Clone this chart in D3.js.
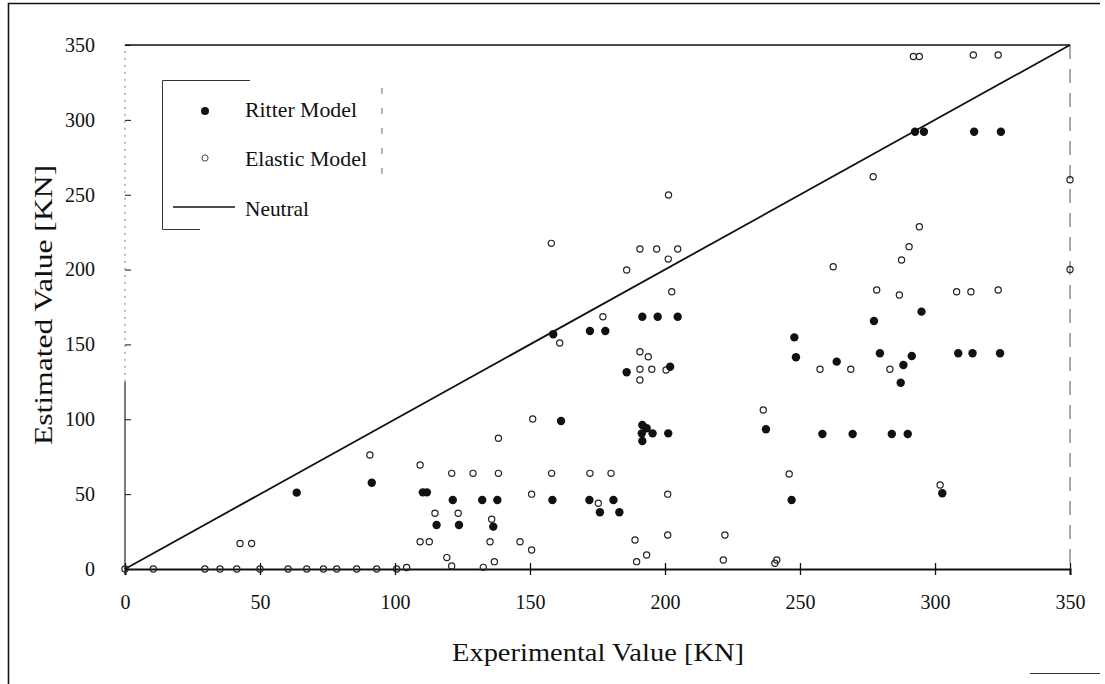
<!DOCTYPE html>
<html><head><meta charset="utf-8">
<script src="https://cdn.jsdelivr.net/npm/d3@7"></script>
<style>body{margin:0;background:#fff}svg{display:block}text{font-family:"Liberation Serif","DejaVu Serif",serif;fill:#111}</style>
</head><body><svg id="c" width="1105" height="684"></svg>
<script>
const xTicks=[0,50,100,150,200,250,300,350];
const yTicks=[0,50,100,150,200,250,300,350];
const legendLabels=["Ritter Model","Elastic Model","Neutral"];
const neutralLine=[[0,0],[350,350]];
const ritterX=[63.6,91.4,110.3,111.8,121.4,132.3,137.9,158.3,172,180.9,175.9,183.1,115.4,123.7,136.4,161.5,158.6,172.2,177.9,191.6,197.3,204.7,185.8,191.6,193.2,195.4,191.4,191.6,201.2,201.9,237.4,246.9,247.9,248.5,258.3,263.6,269.5,277.4,279.6,284,287.3,288.3,289.9,291.4,295,292.6,295.9,302.7,308.6,313.9,314.5,324.1,324.4];
const ritterY=[51,57.6,51.2,51.2,46.1,46.1,46.1,46.1,46.1,46.1,37.9,37.9,29.4,29.4,28.3,98.9,156.8,159,159,168.5,168.5,168.5,131.4,96.2,94,90.6,90.6,85.5,90.6,135.1,93.3,46.1,154.7,141.4,90.2,138.5,90.2,165.6,144.1,90.2,124.4,136.3,90.2,142.3,171.9,292.1,292.1,50.6,144.1,144.1,292.1,144.1,292.1];
const elasticX=[0,10.5,29.6,35.2,41.4,50,60.4,67.3,73.5,78.4,85.8,93.2,100.6,104.3,119.2,121,42.6,46.9,90.7,109.3,109.3,112.7,114.8,123.4,121,128.9,138.3,158,172.2,180,135.8,135.2,146.3,150.6,136.8,132.7,138.3,151,161,177,175.3,188.9,193.2,189.5,190.7,193.8,190.7,195.1,200.4,190.7,190.7,196.9,204.7,201.2,185.8,201.3,157.9,202.5,222.2,221.6,240.7,241.4,236.4,246,257.4,268.8,283.3,278.4,286.8,301.9,308,313.3,323.4,277.1,294.2,290.4,287.6,262.3,292,294.2,314.2,323.4,350,350,201,201,150.6];
const elasticY=[0,0,0,0,0,0,0,0,0,0,0,0,0,1,7.6,2,17,17,76.1,69.5,18.2,18.2,37.2,37.2,63.9,63.9,63.9,63.9,63.9,63.9,33.2,18.2,18.2,12.7,4.9,1.1,87.3,100.2,151,168.5,43.9,19.4,9.4,4.9,145.1,141.8,133.4,133.4,132.9,126.2,213.7,213.7,213.7,207,199.7,249.8,217.5,185.2,22.7,6,3.8,6,106.2,63.5,133.4,133.4,133.4,186.4,183,56.1,185.2,185.2,186.4,262,228.6,215.3,206.4,201.9,342.3,342.3,343.3,343.3,260,200,50,22.7,50];

const svg=d3.select("#c");
const x=d3.scaleLinear().domain([0,350]).range([125,1070]);
const y=d3.scaleLinear().domain([0,350]).range([569,45]);

// outer frame
svg.append("path").attr("d","M8.5,684 V3.5 H1100").attr("fill","none").attr("stroke","#111").attr("stroke-width",1.6);
svg.append("line").attr("x1",1030).attr("x2",1100).attr("y1",673.5).attr("y2",673.5).attr("stroke","#333").attr("stroke-width",1);

// plot box
svg.append("line").attr("x1",x(0)).attr("x2",x(350)).attr("y1",y(350)).attr("y2",y(350)).attr("stroke","#111").attr("stroke-width",1.4);
svg.append("line").attr("x1",x(350)).attr("x2",x(350)).attr("y1",y(350)).attr("y2",y(0)).attr("stroke","#555").attr("stroke-width",1).attr("stroke-dasharray","14,10");
svg.append("line").attr("x1",x(0)).attr("x2",x(0)).attr("y1",y(0)).attr("y2",y(125)).attr("stroke","#222").attr("stroke-width",1.2);
svg.append("line").attr("x1",x(0)).attr("x2",x(0)).attr("y1",y(125)).attr("y2",y(350)).attr("stroke","#777").attr("stroke-width",1).attr("stroke-dasharray","2,5");

// axes
const xAxis=svg.append("g").attr("transform",`translate(0,${y(0)})`)
  .call(d3.axisBottom(x).tickValues(xTicks).tickSize(6).tickPadding(20).tickFormat(d3.format("d")));
xAxis.select(".domain").attr("stroke","#111").attr("stroke-width",2);
xAxis.selectAll(".tick line").attr("y1",-6).attr("stroke","#111").attr("stroke-width",1.3);
xAxis.selectAll("text").attr("font-size",20).attr("font-family","Liberation Serif");

const yAxis=svg.append("g").attr("transform",`translate(${x(0)},0)`)
  .call(d3.axisLeft(y).tickValues(yTicks).tickSize(6).tickPadding(24).tickFormat(d3.format("d")));
yAxis.select(".domain").remove();
yAxis.selectAll(".tick line").attr("x2",6).attr("stroke","#111").attr("stroke-width",1);
yAxis.selectAll("text").attr("font-size",20).attr("font-family","Liberation Serif");

// titles
svg.append("text").attr("x",598).attr("y",661).attr("text-anchor","middle").attr("font-size",26)
  .attr("textLength",292).attr("lengthAdjust","spacingAndGlyphs").text("Experimental Value [KN]");
svg.append("text").attr("transform","translate(52,305) rotate(-90)").attr("text-anchor","middle").attr("font-size",26)
  .attr("textLength",280).attr("lengthAdjust","spacingAndGlyphs").text("Estimated Value [KN]");

// neutral line
svg.append("path").datum(neutralLine).attr("d",d3.line().x(d=>x(d[0])).y(d=>y(d[1])))
  .attr("stroke","#111").attr("stroke-width",1.8).attr("fill","none");

// elastic
const elastic=elasticX.map((v,i)=>[v,elasticY[i]]);
svg.append("g").selectAll("circle").data(elastic).join("circle")
  .attr("cx",d=>x(d[0])).attr("cy",d=>y(d[1])).attr("r",3.1)
  .attr("fill","none").attr("stroke","#222").attr("stroke-width",1.2);

// ritter
const ritter=ritterX.map((v,i)=>[v,ritterY[i]]);
svg.append("g").selectAll("circle").data(ritter).join("circle")
  .attr("cx",d=>x(d[0])).attr("cy",d=>y(d[1])).attr("r",4.2).attr("fill","#111");

// legend
const lg=svg.append("g");
lg.append("path").attr("d","M250,80.5 H162.5 V229.5 H200").attr("fill","none").attr("stroke","#333").attr("stroke-width",1);
lg.append("line").attr("x1",382).attr("x2",382).attr("y1",88).attr("y2",180).attr("stroke","#666").attr("stroke-dasharray","6,14");
lg.append("circle").attr("cx",205).attr("cy",111).attr("r",4).attr("fill","#111");
lg.append("circle").attr("cx",205).attr("cy",158).attr("r",3.1).attr("fill","none").attr("stroke","#444").attr("stroke-width",1);
lg.append("line").attr("x1",173).attr("x2",235).attr("y1",207).attr("y2",207).attr("stroke","#111").attr("stroke-width",1.3);
const lw=[112,122,64];
lg.selectAll("text.l").data(legendLabels).join("text").attr("class","l")
  .attr("x",245).attr("y",(d,i)=>[117,166,216][i]).attr("font-size",21)
  .attr("textLength",(d,i)=>lw[i]).attr("lengthAdjust","spacingAndGlyphs").text(d=>d);
</script></body></html>
